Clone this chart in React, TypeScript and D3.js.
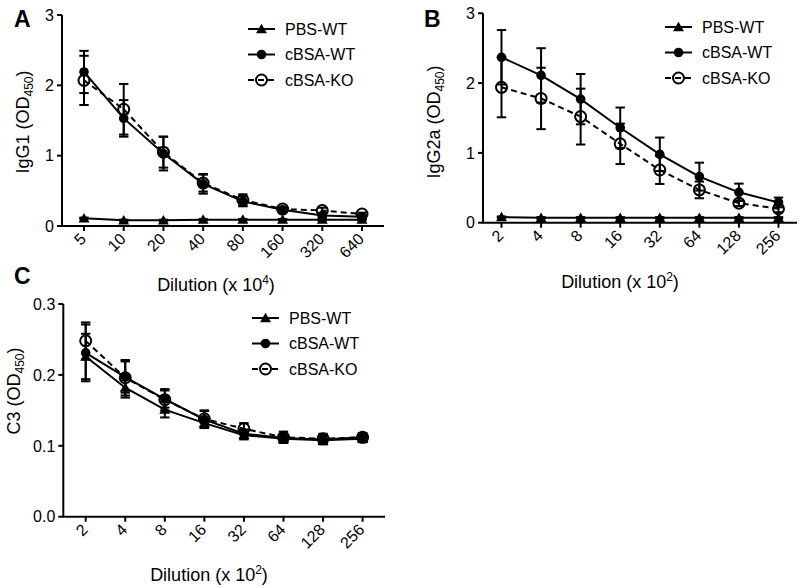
import React from "react";
import * as d3 from "d3";

// ---------- data ----------
const dilA = ["5", "10", "20", "40", "80", "160", "320", "640"];
const dilBC = ["2", "4", "8", "16", "32", "64", "128", "256"];
const seriesNames = ["PBS-WT", "cBSA-WT", "cBSA-KO"];

// Panel A: IgG1
const aPBS = [0.11, 0.08, 0.08, 0.09, 0.09, 0.09, 0.09, 0.09];
const aPBSErr = [0.01, 0.01, 0.01, 0.01, 0.01, 0.01, 0.01, 0.01];
const aWT = [2.19, 1.53, 1.03, 0.6, 0.35, 0.23, 0.15, 0.13];
const aWTErr = [0.3, 0.26, 0.24, 0.14, 0.07, 0.02, 0.03, 0.02];
const aKO = [2.07, 1.66, 1.05, 0.61, 0.37, 0.24, 0.22, 0.17];
const aKOErr = [0.35, 0.36, 0.22, 0.12, 0.08, 0.02, 0.04, 0.02];

// Panel B: IgG2a
const bPBS = [0.08, 0.07, 0.07, 0.07, 0.07, 0.07, 0.07, 0.07];
const bPBSErr = [0.01, 0.01, 0.01, 0.01, 0.01, 0.01, 0.01, 0.01];
const bWT = [2.37, 2.11, 1.77, 1.36, 0.98, 0.66, 0.435, 0.29];
const bWTErr = [0.39, 0.39, 0.36, 0.29, 0.24, 0.2, 0.125, 0.07];
const bKO = [1.94, 1.78, 1.52, 1.13, 0.755, 0.47, 0.28, 0.2];
const bKOErr = [0.43, 0.44, 0.4, 0.29, 0.2, 0.12, 0.04, 0.05];

// Panel C: C3
const cPBS = [0.226, 0.182, 0.151, 0.132, 0.115, 0.11, 0.108, 0.11];
const cPBSErr = [0.032, 0.014, 0.011, 0.006, 0.006, 0.006, 0.006, 0.005];
const cWT = [0.231, 0.197, 0.166, 0.137, 0.117, 0.111, 0.109, 0.112];
const cWTErr = [0.04, 0.022, 0.012, 0.012, 0.006, 0.006, 0.006, 0.006];
const cKO = [0.248, 0.196, 0.165, 0.138, 0.124, 0.112, 0.11, 0.112];
const cKOErr = [0.026, 0.025, 0.015, 0.012, 0.008, 0.008, 0.007, 0.006];

const yTicksAB = [0, 1, 2, 3];
const yTicksC = [0, 0.1, 0.2, 0.3];

const FONT = "Arial, 'Liberation Sans', Helvetica, sans-serif";

type Series = { name: string; values: number[]; errs: number[]; marker: string; dashed: boolean };

function Marker({ type, x, y }: { type: string; x: number; y: number }) {
  if (type === "triangle") {
    const p = d3.symbol().type(d3.symbolTriangle).size(52)();
    return <path d={p as string} transform={`translate(${x},${y + 1})`} fill="#000" />;
  }
  if (type === "filled") {
    return <circle cx={x} cy={y} r={4.8} fill="#000" />;
  }
  return <circle cx={x} cy={y} r={5.5} fill="none" stroke="#000" strokeWidth={2} />;
}

type PanelProps = {
  letter: string;
  letterX: number;
  letterY: number;
  x0: number;
  x1: number;
  yTop: number;
  yBottom: number;
  pad: number;
  yMax: number;
  yTicks: number[];
  yFmt: (v: number) => string;
  xLabels: string[];
  series: Series[];
  yLabel: string;
  yLabelX: number;
  yLabelY: number;
  xTitleSup: string;
  xTitleX: number;
  xTitleY: number;
  legX: number;
  legY: number;
};

function Panel(p: PanelProps) {
  const x = d3.scalePoint<string>().domain(p.xLabels).range([p.x0 + p.pad, p.x1 - p.pad]);
  const y = d3.scaleLinear().domain([0, p.yMax]).range([p.yBottom, p.yTop]);
  const line = d3
    .line<number>()
    .x((_, i) => x(p.xLabels[i]) as number)
    .y((v) => y(v));
  const capW = 4.7;
  return (
    <g>
      <text x={p.letterX} y={p.letterY} fontSize={23} fontWeight="bold" fontFamily={FONT}>
        {p.letter}
      </text>
      {/* axes */}
      <line x1={p.x0} x2={p.x0} y1={p.yTop} y2={p.yBottom} stroke="#000" strokeWidth={2} />
      <line x1={p.x0 - 1} x2={p.x1} y1={p.yBottom} y2={p.yBottom} stroke="#000" strokeWidth={2} />
      {p.yTicks.map((t) => (
        <g key={t}>
          <line x1={p.x0 - 5} x2={p.x0} y1={y(t)} y2={y(t)} stroke="#000" strokeWidth={2} />
          <text x={p.x0 - 8} y={y(t)} dy="0.36em" textAnchor="end" fontSize={16} fontFamily={FONT}>
            {p.yFmt(t)}
          </text>
        </g>
      ))}
      {p.xLabels.map((l) => {
        const xx = x(l) as number;
        return (
          <g key={l}>
            <line x1={xx} x2={xx} y1={p.yBottom} y2={p.yBottom + 5} stroke="#000" strokeWidth={2} />
            <text
              transform={`translate(${xx + 3},${p.yBottom + 14}) rotate(-45)`}
              textAnchor="end"
              fontSize={16}
              fontFamily={FONT}
            >
              {l}
            </text>
          </g>
        );
      })}
      {/* y label */}
      <text
        transform={`translate(${p.yLabelX},${p.yLabelY}) rotate(-90)`}
        textAnchor="middle"
        fontSize={18}
        fontFamily={FONT}
      >
        {p.yLabel} (OD
        <tspan fontSize={12} dy={4}>
          450
        </tspan>
        <tspan dy={-4}>)</tspan>
      </text>
      {/* x title */}
      <text x={p.xTitleX} y={p.xTitleY} textAnchor="middle" fontSize={18} fontFamily={FONT}>
        Dilution (x 10
        <tspan fontSize={12} dy={-7}>
          {p.xTitleSup}
        </tspan>
        <tspan dy={7}>)</tspan>
      </text>
      {/* lines */}
      {p.series.map((s) => (
        <path
          key={s.name}
          d={line(s.values) as string}
          fill="none"
          stroke="#000"
          strokeWidth={2}
          strokeDasharray={s.dashed ? "6,4" : undefined}
        />
      ))}
      {/* error bars */}
      {p.series.map((s) =>
        s.values.map((v, i) => {
          const xx = x(p.xLabels[i]) as number;
          const yt = y(v + s.errs[i]);
          const yb = y(v - s.errs[i]);
          return (
            <g key={s.name + i} stroke="#000" strokeWidth={2}>
              <line x1={xx} x2={xx} y1={yt} y2={yb} />
              <line x1={xx - capW} x2={xx + capW} y1={yt} y2={yt} />
              <line x1={xx - capW} x2={xx + capW} y1={yb} y2={yb} />
            </g>
          );
        })
      )}
      {/* markers */}
      {p.series.map((s) =>
        s.values.map((v, i) => (
          <Marker key={s.name + "m" + i} type={s.marker} x={x(p.xLabels[i]) as number} y={y(v)} />
        ))
      )}
      {/* legend */}
      {p.series.map((s, i) => {
        const ly = p.legY + i * 25.5;
        return (
          <g key={s.name + "leg"}>
            <line
              x1={p.legX}
              x2={p.legX + 27}
              y1={ly}
              y2={ly}
              stroke="#000"
              strokeWidth={2}
              strokeDasharray={s.dashed ? "6,4" : undefined}
            />
            <Marker type={s.marker} x={p.legX + 13.5} y={ly} />
            <text x={p.legX + 37} y={ly} dy="0.36em" fontSize={16} fontFamily={FONT}>
              {s.name}
            </text>
          </g>
        );
      })}
    </g>
  );
}

function mk(vals: number[][], errs: number[][]): Series[] {
  const markers = ["triangle", "filled", "open"];
  return seriesNames.map((n, i) => ({
    name: n,
    values: vals[i],
    errs: errs[i],
    marker: markers[i],
    dashed: i === 2,
  }));
}

export default function App() {
  const fmtInt = (v: number) => d3.format("d")(v);
  const fmtC = (v: number) => d3.format(".1f")(v);
  return (
    <svg width={800} height={588} style={{ position: "absolute", left: 0, top: 0, background: "#fff" }}>
      <rect width={800} height={588} fill="#fff" />
      <Panel
        letter="A"
        letterX={14}
        letterY={27}
        x0={62}
        x1={384}
        yTop={15}
        yBottom={226}
        pad={22}
        yMax={3}
        yTicks={yTicksAB}
        yFmt={fmtInt}
        xLabels={dilA}
        series={mk([aPBS, aWT, aKO], [aPBSErr, aWTErr, aKOErr])}
        yLabel="IgG1"
        yLabelX={29}
        yLabelY={122}
        xTitleSup="4"
        xTitleX={216}
        xTitleY={291}
        legX={248}
        legY={29}
      />
      <Panel
        letter="B"
        letterX={424}
        letterY={27}
        x0={483}
        x1={797}
        yTop={13.3}
        yBottom={222.7}
        pad={18.5}
        yMax={3}
        yTicks={yTicksAB}
        yFmt={fmtInt}
        xLabels={dilBC}
        series={mk([bPBS, bWT, bKO], [bPBSErr, bWTErr, bKOErr])}
        yLabel="IgG2a"
        yLabelX={440}
        yLabelY={122}
        xTitleSup="2"
        xTitleX={620}
        xTitleY={288}
        legX={665}
        legY={27}
      />
      <Panel
        letter="C"
        letterX={14}
        letterY={284}
        x0={63.3}
        x1={385}
        yTop={304}
        yBottom={516.7}
        pad={22.4}
        yMax={0.3}
        yTicks={yTicksC}
        yFmt={fmtC}
        xLabels={dilBC}
        series={mk([cPBS, cWT, cKO], [cPBSErr, cWTErr, cKOErr])}
        yLabel="C3"
        yLabelX={20}
        yLabelY={391}
        xTitleSup="2"
        xTitleX={209}
        xTitleY={581}
        legX={252}
        legY={318}
      />
    </svg>
  );
}
